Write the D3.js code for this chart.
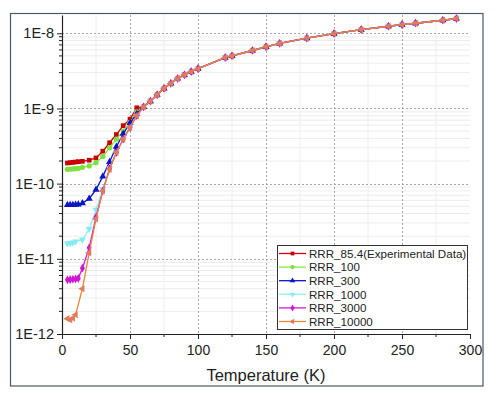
<!DOCTYPE html>
<html>
<head>
<meta charset="utf-8">
<script src="https://cdn.jsdelivr.net/npm/d3@7"></script>
<style>
  html, body { margin: 0; padding: 0; background: #ffffff; }
  svg { display: block; font-family: "Liberation Sans", Arial, sans-serif; }
</style>
</head>
<body>
<svg id="chart" width="500" height="393"></svg>
<script>
// ---------- DATA ----------
const seriesNames = ["RRR_85.4(Experimental Data)", "RRR_100", "RRR_300", "RRR_1000", "RRR_3000", "RRR_10000"];

// shared high-temperature part (all curves merge)
const highTemps  = [60, 65, 70, 75, 80, 85, 90, 95, 100, 120, 125, 140, 150, 160, 180, 200, 220, 240, 250, 260, 280, 290];
const highValues = [1.05e-9, 1.25e-9, 1.52e-9, 1.85e-9, 2.15e-9, 2.5e-9, 2.8e-9, 3.08e-9, 3.38e-9, 4.75e-9, 5.0e-9, 5.9e-9, 6.6e-9, 7.35e-9, 8.6e-9, 9.9e-9, 1.12e-8, 1.24e-8, 1.3e-8, 1.36e-8, 1.49e-8, 1.57e-8];

// low-temperature parts per series
const redTemps     = [4, 6, 8, 10, 12, 15, 20, 25, 30, 35, 40, 45, 50, 55];
const redValues    = [1.88e-10, 1.9e-10, 1.92e-10, 1.94e-10, 1.96e-10, 1.98e-10, 2.05e-10, 2.2e-10, 2.7e-10, 3.5e-10, 4.5e-10, 5.9e-10, 7.2e-10, 1.02e-9];

const greenTemps   = [4, 6, 8, 10, 12, 15, 20, 25, 30, 35, 40, 45, 50, 55];
const greenValues  = [1.55e-10, 1.56e-10, 1.57e-10, 1.58e-10, 1.6e-10, 1.65e-10, 1.72e-10, 1.9e-10, 2.3e-10, 3.0e-10, 3.9e-10, 5.0e-10, 6.5e-10, 9.0e-10];

const blueTemps    = [4, 6, 8, 10, 12, 15, 20, 25, 30, 35, 40, 45, 50, 55];
const blueValues   = [5.2e-11, 5.2e-11, 5.2e-11, 5.25e-11, 5.3e-11, 5.5e-11, 6.3e-11, 8.3e-11, 1.25e-10, 1.95e-10, 3.1e-10, 4.6e-10, 6.4e-10, 8.5e-10];

const cyanTemps    = [4, 6, 8, 10, 15, 20, 25, 30, 35, 40, 45, 50, 55];
const cyanValues   = [1.6e-11, 1.62e-11, 1.65e-11, 1.7e-11, 1.8e-11, 2.5e-11, 4.5e-11, 8.5e-11, 1.6e-10, 2.6e-10, 3.9e-10, 5.6e-10, 8.0e-10];

const magentaTemps  = [4, 6, 8, 10, 12, 15, 20, 25, 30, 35, 40, 45, 50, 55];
const magentaValues = [5.25e-12, 5.3e-12, 5.35e-12, 5.4e-12, 5.5e-12, 7.5e-12, 1.4e-11, 3.6e-11, 8.0e-11, 1.58e-10, 2.6e-10, 3.9e-10, 5.6e-10, 8.0e-10];

const orangeTemps  = [4, 6, 8, 10, 15, 20, 25, 30, 35, 40, 45, 50, 55];
const orangeValues = [1.6e-12, 1.55e-12, 1.62e-12, 1.8e-12, 4.0e-12, 1.2e-11, 3.4e-11, 8.0e-11, 1.55e-10, 2.6e-10, 3.9e-10, 5.6e-10, 8.0e-10];

const xTickValues = [0, 50, 100, 150, 200, 250, 300];
const yTickValues = [1e-12, 1e-11, 1e-10, 1e-9, 1e-8];
const yTickLabels = ["1E-12", "1E-11", "1E-10", "1E-9", "1E-8"];

// ---------- STYLE ----------
const colors  = ["#d40000", "#86e84a", "#0a14c8", "#8ff0f4", "#d21ad8", "#e8863a"];
const markerColors = ["#c80000", "#7ee040", "#0a14c8", "#86eaf0", "#cc18d4", "#e27a5c"];
const symbols = [d3.symbolSquare, d3.symbolCircle, d3.symbolTriangle, "tri-down", d3.symbolDiamond, "tri-left"];

const svg = d3.select("#chart");
const x = d3.scaleLinear().domain([0, 300]).range([62, 470]);
const y = d3.scaleLog().domain([1e-12, 1.75e-8]).range([334, 15]);

// outer frame
svg.append("rect").attr("x", 10.5).attr("y", 13.5).attr("width", 472.5).attr("height", 372.5)
  .attr("fill", "#fff").attr("stroke", "#4a5868").attr("stroke-width", 1.2);

// minor grids
const minorY = [];
for (let e = -12; e <= -8; e++) for (let m = 2; m <= 9; m++) { const v = m * Math.pow(10, e); if (v < 1.75e-8) minorY.push(v); }
const minorX = [25, 75, 125, 175, 225, 275];
const grid = svg.append("g");
grid.selectAll(".gmy").data(minorY).join("line")
  .attr("x1", 62).attr("x2", 470).attr("y1", d => y(d)).attr("y2", d => y(d))
  .attr("stroke", "#ececec").attr("stroke-width", 1);
grid.selectAll(".gmx").data(minorX).join("line")
  .attr("x1", d => x(d)).attr("x2", d => x(d)).attr("y1", 15).attr("y2", 334)
  .attr("stroke", "#ececec").attr("stroke-width", 1);
grid.selectAll(".gy").data(yTickValues.slice(1)).join("line")
  .attr("x1", 62).attr("x2", 470).attr("y1", d => Math.round(y(d)) + 0.5).attr("y2", d => Math.round(y(d)) + 0.5)
  .attr("stroke", "#a8a8a8").attr("stroke-width", 1).attr("stroke-dasharray", "2,2");
grid.selectAll(".gx").data([50, 100, 150, 200, 250]).join("line")
  .attr("x1", d => Math.round(x(d)) + 0.5).attr("x2", d => Math.round(x(d)) + 0.5).attr("y1", 15).attr("y2", 334)
  .attr("stroke", "#a8a8a8").attr("stroke-width", 1).attr("stroke-dasharray", "2,2");

// axes
const xAxis = d3.axisBottom(x).tickValues(xTickValues).tickSize(5).tickSizeOuter(0).tickPadding(6);
const gx = svg.append("g").attr("transform", "translate(0,334)").call(xAxis);
gx.selectAll("text").attr("font-size", 14).attr("fill", "#222");
gx.append("g").selectAll("line").data(minorX).join("line")
  .attr("x1", d => x(d)).attr("x2", d => x(d)).attr("y1", 0).attr("y2", 3).attr("stroke", "#222");

const yAxis = d3.axisLeft(y).tickValues(yTickValues).tickFormat((d, i) => yTickLabels[i]).tickSize(5).tickSizeOuter(0).tickPadding(3);
const gy = svg.append("g").attr("transform", "translate(62,0)").call(yAxis);
gy.selectAll("text").attr("font-size", 14.5).attr("fill", "#222");
gy.append("g").selectAll("line").data(minorY).join("line")
  .attr("x1", -3).attr("x2", 0).attr("y1", d => y(d)).attr("y2", d => y(d)).attr("stroke", "#222");
svg.selectAll(".domain").attr("stroke", "#222").attr("stroke-width", 1.2);
svg.selectAll(".tick line").attr("stroke", "#222");

// x title
svg.append("text").attr("x", 266).attr("y", 381).attr("text-anchor", "middle")
  .attr("font-size", 16.5).attr("fill", "#222").text("Temperature (K)");

// series
const lowT = [redTemps, greenTemps, blueTemps, cyanTemps, magentaTemps, orangeTemps];
const lowV = [redValues, greenValues, blueValues, cyanValues, magentaValues, orangeValues];
const series = seriesNames.map((name, i) => ({
  name, color: colors[i], mcolor: markerColors[i], sym: symbols[i],
  points: lowT[i].map((t, j) => ({ t, v: lowV[i][j] })).concat(highTemps.map((t, j) => ({ t, v: highValues[j] })))
}));

function markerPath(sym, size) {
  if (sym === "tri-down" || sym === "tri-left") return d3.symbol(d3.symbolTriangle, size)();
  return d3.symbol(sym, size)();
}
function markerRot(sym) { return sym === "tri-down" ? 180 : (sym === "tri-left" ? -90 : 0); }

const line = d3.line().x(d => x(d.t)).y(d => y(d.v));
series.forEach(s => {
  const g = svg.append("g");
  g.append("path").datum(s.points).attr("d", line).attr("fill", "none")
    .attr("stroke", s.color).attr("stroke-width", 1.3);
  g.selectAll("path.m").data(s.points).join("path").attr("class", "m")
    .attr("d", markerPath(s.sym, 22))
    .attr("transform", d => `translate(${x(d.t)},${y(d.v)}) rotate(${markerRot(s.sym)})`)
    .attr("fill", s.mcolor);
});

// legend
const lg = svg.append("g");
lg.append("rect").attr("x", 277.5).attr("y", 245.5).attr("width", 190).attr("height", 84)
  .attr("fill", "#fff").attr("stroke", "#333").attr("stroke-width", 1);
series.forEach((s, i) => {
  const yy = 253.5 + i * 13.6;
  lg.append("line").attr("x1", 279).attr("x2", 306).attr("y1", yy).attr("y2", yy)
    .attr("stroke", s.color).attr("stroke-width", 1.3);
  lg.append("path").attr("d", markerPath(s.sym, 14))
    .attr("transform", `translate(292.5,${yy}) rotate(${markerRot(s.sym)})`).attr("fill", s.mcolor);
  lg.append("text").attr("x", 309).attr("y", yy + 4.2).attr("font-size", 11.6).attr("fill", "#222").text(s.name);
});
</script>
</body>
</html>
